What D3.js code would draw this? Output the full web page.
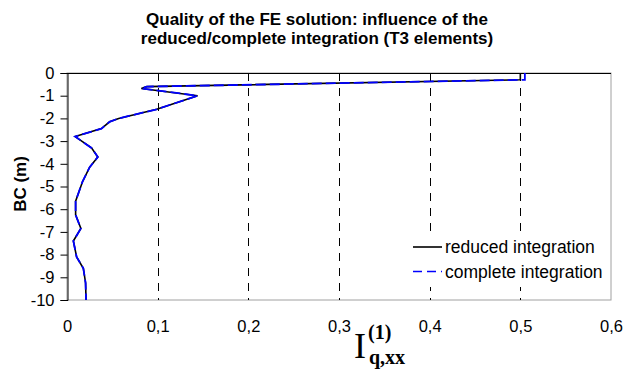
<!DOCTYPE html>
<html><head><meta charset="utf-8">
<script src="https://cdn.jsdelivr.net/npm/d3@7"></script>
<style>body{margin:0;background:#fff}svg{display:block}</style>
</head><body>
<svg id="c" width="626" height="372"></svg>
<script>
const depths   = [0, -0.3, -0.6, -0.68, -1.0, -1.6, -2.0, -2.15, -2.45, -2.8, -3.3, -3.7, -4.15, -4.8, -5.65, -6.25, -6.85, -7.4, -8.1, -8.6, -9.25, -10];
const reduced  = [0.5, 0.5, 0.088, 0.082, 0.144, 0.099, 0.057, 0.047, 0.038, 0.009, 0.027, 0.034, 0.025, 0.017, 0.0095, 0.0095, 0.0153, 0.007, 0.0106, 0.018, 0.0205, 0.021];
const complete = [0.505, 0.505, 0.088, 0.082, 0.144, 0.099, 0.057, 0.047, 0.038, 0.009, 0.027, 0.034, 0.025, 0.017, 0.0095, 0.0095, 0.0153, 0.007, 0.0106, 0.018, 0.0205, 0.021];
const xTicks = [0, 0.1, 0.2, 0.3, 0.4, 0.5, 0.6];
const yTicks = [0, -1, -2, -3, -4, -5, -6, -7, -8, -9, -10];
const seriesNames = ["reduced integration", "complete integration"];
const titleLines = ["Quality of the FE solution: influence of the", "reduced/complete integration (T3 elements)"];

const SANS = "'Liberation Sans', Arial, sans-serif";
const svg = d3.select("#c");
const L = 67, R = 611, T = 73, B = 300;
const x = d3.scaleLinear().domain([0, 0.6]).range([L, R]);
const y = d3.scaleLinear().domain([-10, 0]).range([B, T]);
const fmt = d => d === 0 ? "0" : d3.format(".1f")(d).replace(".", ",");

// plot border (gray)
svg.append("rect").attr("x", L).attr("y", T).attr("width", R - L).attr("height", B - T)
  .attr("fill", "none").attr("stroke", "#a0a0a0").attr("stroke-width", 1);

// gridlines
svg.append("g").selectAll("line").data(xTicks.filter(d => d > 0 && d < 0.6)).join("line")
  .attr("x1", d => Math.round(x(d)) + 0.5).attr("x2", d => Math.round(x(d)) + 0.5)
  .attr("y1", T).attr("y2", B)
  .attr("stroke", "#000").attr("stroke-width", 1).attr("stroke-dasharray", "8,7");

// y axis
const ya = svg.append("g").attr("transform", `translate(${L + 0.5},0)`)
  .call(d3.axisLeft(y).tickValues(yTicks).tickSize(7).tickPadding(6).tickFormat(d => d3.format("d")(d).replace("−", "-")));
ya.select(".domain").attr("stroke", "#000");
ya.selectAll("text").attr("font-family", SANS).attr("font-size", 16.5).attr("fill", "#000");

// x axis line at top (crosses at 0)
svg.append("line").attr("x1", L).attr("x2", R).attr("y1", T + 0.5).attr("y2", T + 0.5).attr("stroke", "#000");

// x tick labels at bottom
const xa = svg.append("g").attr("transform", `translate(0,${B})`)
  .call(d3.axisBottom(x).tickValues(xTicks).tickSize(0).tickPadding(20).tickFormat(fmt));
xa.select(".domain").remove();
xa.selectAll("text").attr("font-family", SANS).attr("font-size", 16.5).attr("fill", "#000");

// legend background (covers gridlines)
svg.append("rect").attr("x", 405).attr("y", 233).attr("width", R - 405 - 1).attr("height", 54).attr("fill", "#fff");

// lines
const line = vals => d3.line().x((d, i) => x(vals[i])).y((d, i) => y(depths[i]))(depths);
svg.append("path").attr("d", line(reduced)).attr("fill", "none").attr("stroke", "#000").attr("stroke-width", 1.6);
svg.append("path").attr("d", line(complete)).attr("fill", "none").attr("stroke", "#0000ff").attr("stroke-width", 1.8).attr("stroke-dasharray", "10,4");

// legend
const lg = svg.append("g");
const legColors = ["#000", "#0000ff"], legDash = [null, "9,5"];
seriesNames.forEach((n, i) => {
  const yy = 247 + i * 24.5;
  lg.append("line").attr("x1", 413).attr("x2", 442).attr("y1", yy).attr("y2", yy)
    .attr("stroke", legColors[i]).attr("stroke-width", 1.6).attr("stroke-dasharray", legDash[i]);
  lg.append("text").attr("x", 445).attr("y", yy + 6).text(n)
    .attr("font-family", SANS).attr("font-size", 17.5).attr("fill", "#000");
});

// title
titleLines.forEach((t, i) => {
  svg.append("text").attr("x", 317).attr("y", 25 + i * 19).attr("text-anchor", "middle")
    .attr("font-family", SANS).attr("font-weight", "bold").attr("font-size", 17)
    .attr("fill", "#000").text(t);
});

// y label
svg.append("text").attr("transform", "translate(26,184) rotate(-90)").attr("text-anchor", "middle")
  .attr("font-family", SANS).attr("font-weight", "bold").attr("font-size", 17)
  .attr("fill", "#000").text("BC (m)");

// x label: I^(1)_{q,xx}
const xl = svg.append("g").attr("font-family", "'Liberation Serif', 'Times New Roman', serif").attr("fill", "#000");
xl.append("text").attr("x", 354).attr("y", 358).attr("font-size", 36).text("I");
xl.append("text").attr("x", 368).attr("y", 339).attr("font-size", 20).attr("font-weight", "bold").text("(1)");
xl.append("text").attr("x", 369).attr("y", 364).attr("font-size", 20).attr("font-weight", "bold").text("q,xx");
</script>
</body></html>
